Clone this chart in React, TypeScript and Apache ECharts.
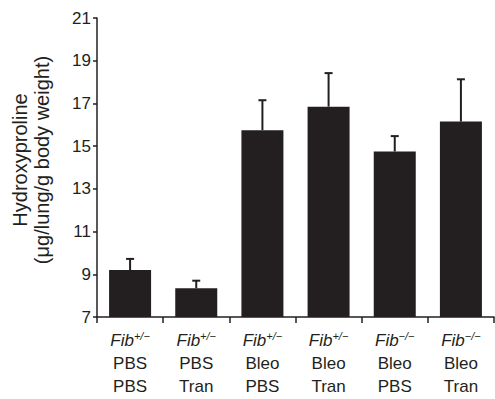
import React, { useEffect, useRef } from "react";
import * as echarts from "echarts";

const genotypes = ["+/−", "+/−", "+/−", "+/−", "−/−", "−/−"];
const treatment1 = ["PBS", "PBS", "Bleo", "Bleo", "Bleo", "Bleo"];
const treatment2 = ["PBS", "Tran", "PBS", "Tran", "PBS", "Tran"];
const means = [9.2, 8.35, 15.75, 16.85, 14.75, 16.15];
const errTops = [9.72, 8.7, 17.15, 18.42, 15.47, 18.13];
const yTicks = { min: 7, max: 21, interval: 2 };

const FONT = "'Liberation Sans', Arial, Helvetica, sans-serif";
const INK = "#231f20";

export default function App() {
  const ref = useRef<HTMLDivElement>(null);
  useEffect(() => {
    if (!ref.current) return;
    const chart = echarts.init(ref.current, undefined, { renderer: "svg" });
    const cats = means.map((_, i) => String(i));
    chart.setOption({
      animation: false,
      backgroundColor: "#ffffff",
      grid: { left: 97, right: 1, top: 18, bottom: 82 },
      xAxis: {
        type: "category",
        data: cats,
        axisLine: { lineStyle: { color: INK, width: 1.5 } },
        axisTick: { show: true, length: 6, lineStyle: { color: INK, width: 1.5 } },
        axisLabel: {
          margin: 12,
          interval: 0,
          formatter: (v: string) => {
            const i = Number(v);
            return `{i|Fib}{s|${genotypes[i]}}\n{n|${treatment1[i]}}\n{n|${treatment2[i]}}`;
          },
          rich: {
            i: { fontFamily: FONT, fontSize: 17, fontStyle: "italic", color: INK, lineHeight: 23 },
            s: { fontFamily: FONT, fontSize: 11, fontStyle: "italic", color: INK, padding: [0, 0, 10, 0] },
            n: { fontFamily: FONT, fontSize: 17, color: INK, lineHeight: 23 },
          },
        },
      },
      yAxis: {
        type: "value",
        min: yTicks.min,
        max: yTicks.max,
        interval: yTicks.interval,
        name: "Hydroxyproline\n(μg/lung/g body weight)",
        nameLocation: "middle",
        nameGap: 44,
        nameTextStyle: { fontFamily: FONT, fontSize: 20, color: INK, lineHeight: 22, padding: [0, 0, 0, 15] },
        splitLine: { show: false },
        axisLine: { show: true, lineStyle: { color: INK, width: 1.5 } },
        axisTick: { show: true, length: 4, lineStyle: { color: INK, width: 1.5 } },
        axisLabel: { margin: 6, fontFamily: FONT, fontSize: 17, color: INK },
      },
      series: [
        {
          type: "bar",
          data: means,
          barWidth: 42,
          itemStyle: { color: INK },
          z: 2,
        },
        {
          type: "custom",
          data: means.map((m, i) => [i, m, errTops[i]]),
          z: 3,
          renderItem: (params: any, api: any) => {
            const x = api.value(0);
            const lo = api.coord([x, api.value(1)]);
            const hi = api.coord([x, api.value(2)]);
            const cap = 4;
            return {
              type: "group",
              children: [
                {
                  type: "line",
                  shape: { x1: lo[0], y1: lo[1], x2: hi[0], y2: hi[1] },
                  style: { stroke: INK, lineWidth: 2 },
                },
                {
                  type: "line",
                  shape: { x1: hi[0] - cap, y1: hi[1], x2: hi[0] + cap, y2: hi[1] },
                  style: { stroke: INK, lineWidth: 2 },
                },
              ],
            };
          },
        },
      ],
    });
    return () => chart.dispose();
  }, []);
  return <div ref={ref} style={{ width: 495, height: 399, position: "absolute", left: 0, top: 0 }} />;
}
